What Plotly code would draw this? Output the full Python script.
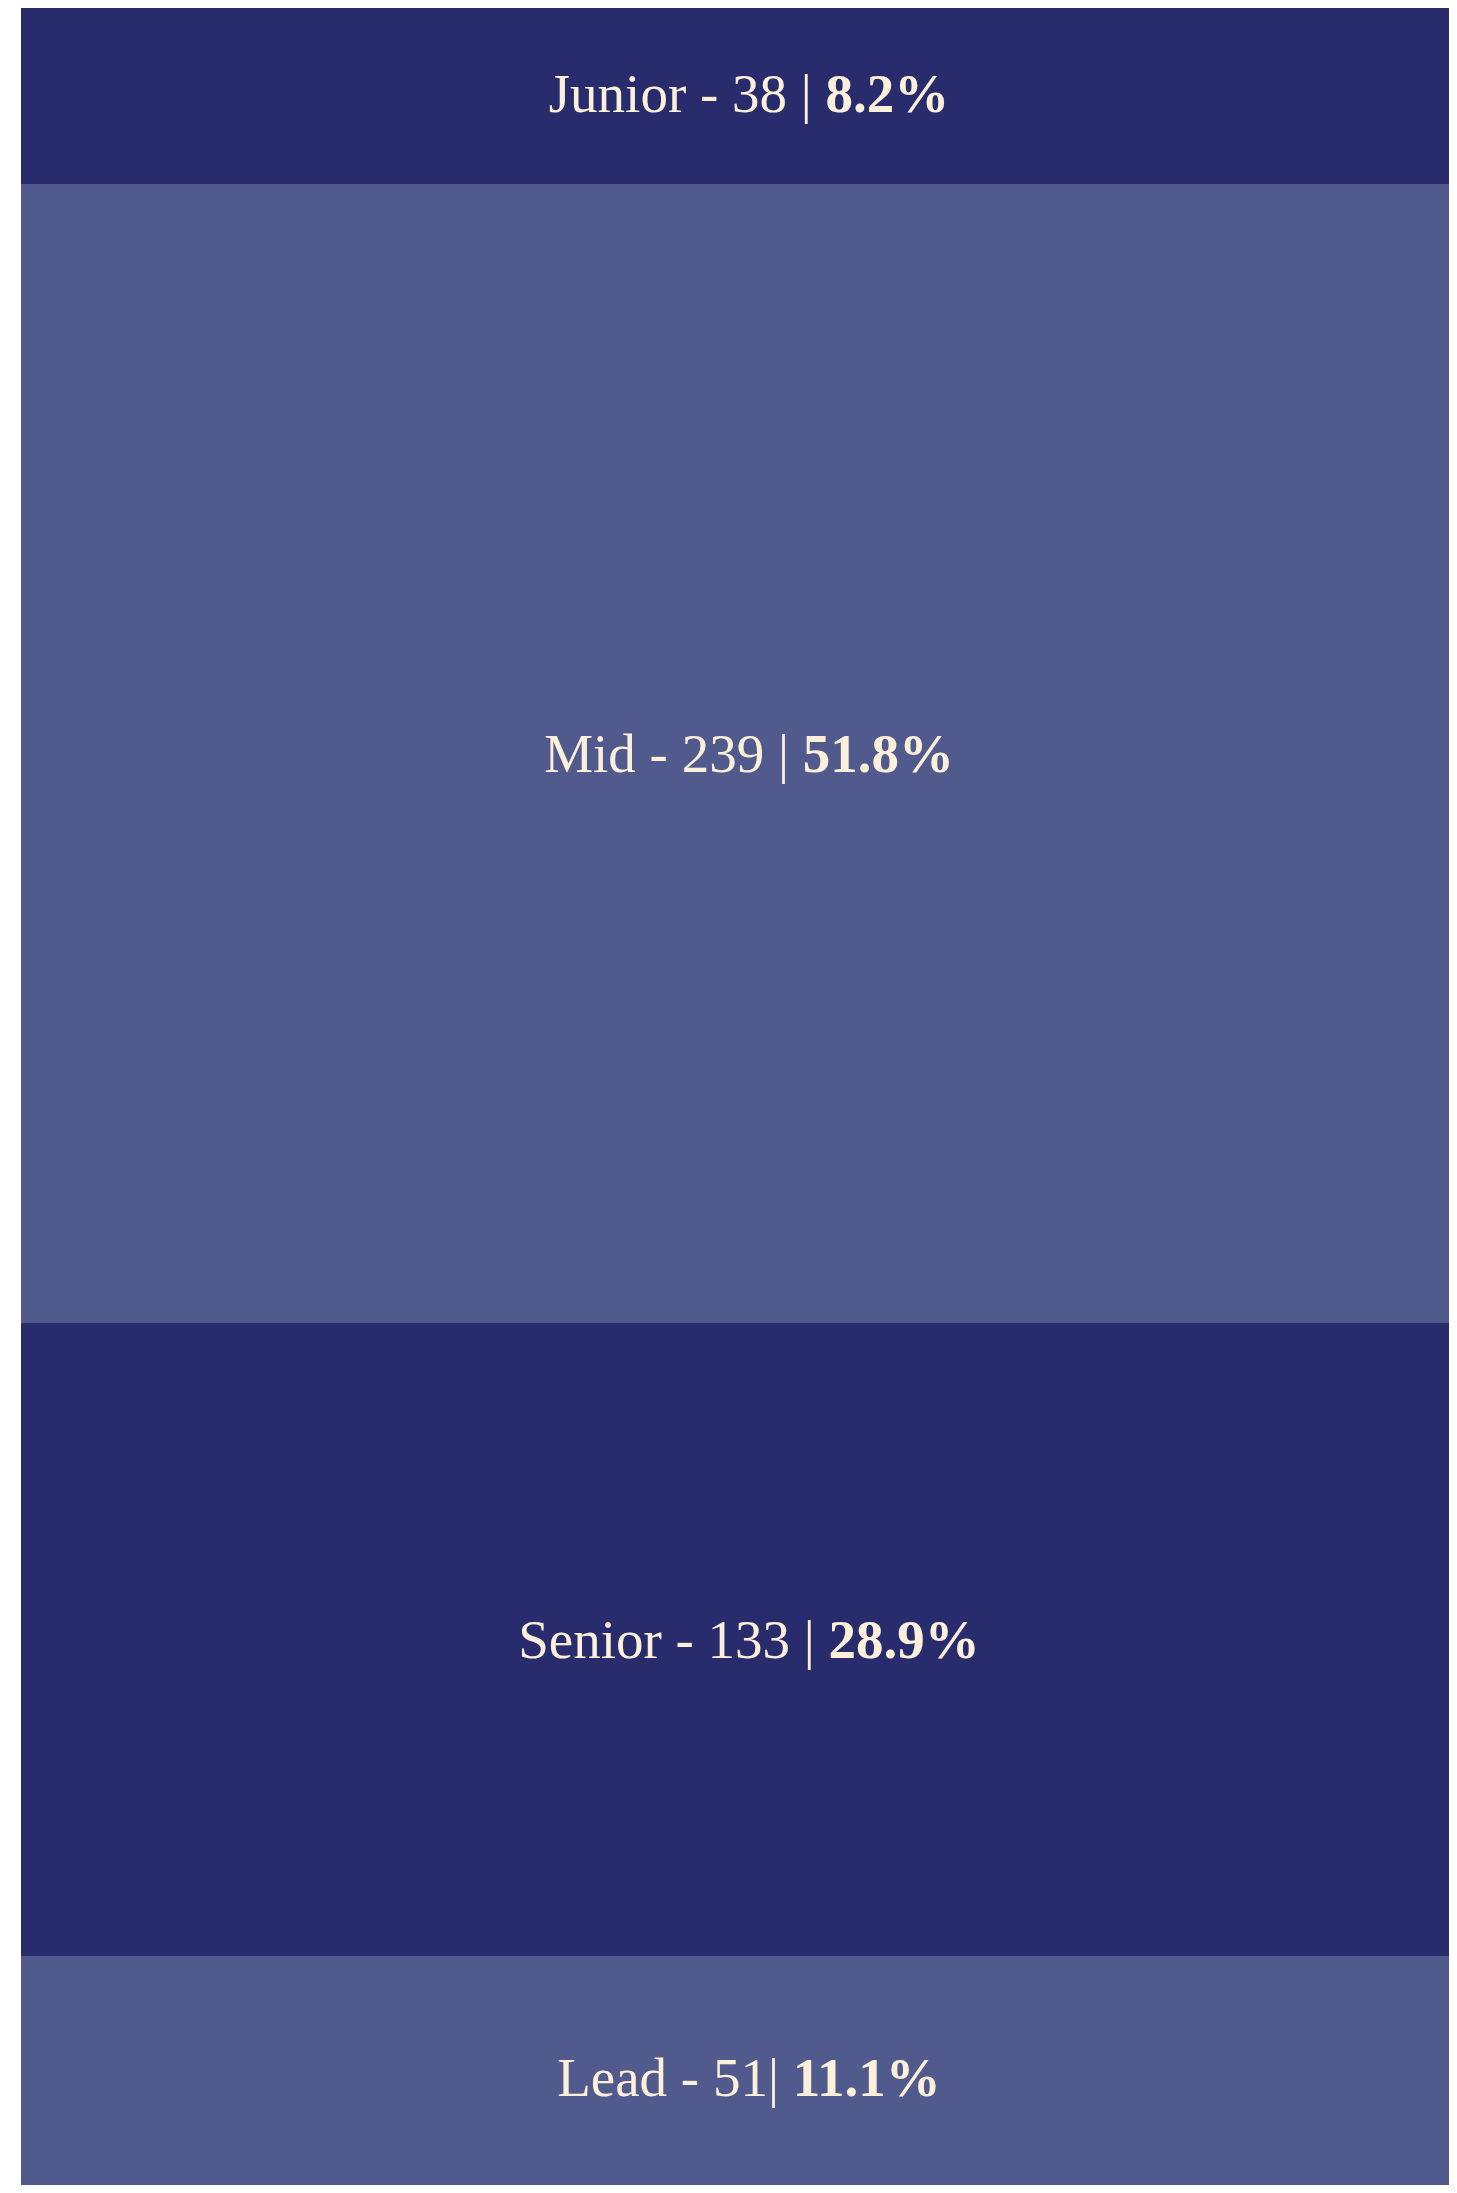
import plotly.graph_objects as go

# Data
levels = ["Junior", "Mid", "Senior", "Lead"]
counts = [38, 239, 133, 51]
percents = [8.2, 51.8, 28.9, 11.1]
separators = [" | ", " | ", " | ", "| "]
colors = ["#282C6C", "#515A8C", "#282C6C", "#515A8C"]

TEXT_COLOR = "#FDF0DA"
FONT = "Liberation Serif"

fig = go.Figure()
for lvl, c, p, sep, col in zip(levels, counts, percents, separators, colors):
    fig.add_trace(go.Bar(
        x=["All"],
        y=[c],
        width=[1],
        marker=dict(color=col, line=dict(width=0)),
        text=[f"{lvl} - {c}{sep}<b>{p}%</b>"],
        textposition="inside",
        insidetextanchor="middle",
        textangle=0,
        textfont=dict(family=FONT, size=55, color=TEXT_COLOR),
        constraintext="none",
        hoverinfo="skip",
        name=lvl,
    ))

fig.update_layout(
    barmode="stack",
    width=1441,
    height=2177,
    margin=dict(l=13, r=0, t=0, b=0, pad=0),
    paper_bgcolor="white",
    plot_bgcolor="white",
    showlegend=False,
    bargap=0,
    xaxis=dict(visible=False, range=[-0.5, 0.4808], fixedrange=True),
    yaxis=dict(visible=False, range=[458.05, 0.99], fixedrange=True),
)

fig.write_html("out.html")
